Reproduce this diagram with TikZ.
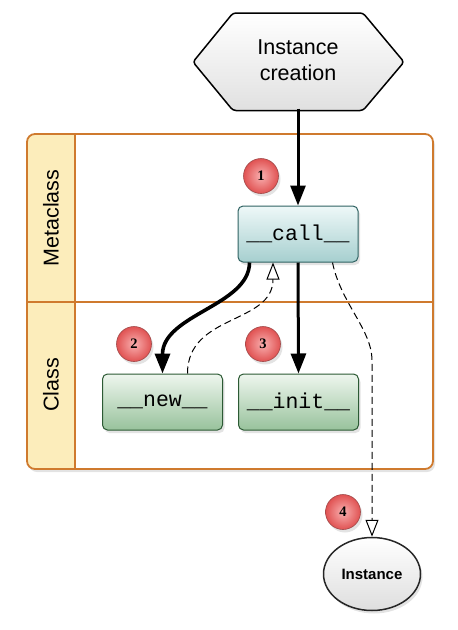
\documentclass[tikz,border=0pt]{standalone}
\usepackage{fontspec}
\setmainfont{Liberation Sans}
\newfontfamily\monofont{Liberation Mono}
\newfontfamily\badgefont{Liberation Serif}
\usetikzlibrary{arrows.meta,shadows,shapes.geometric}
\definecolor{lanebrd}{HTML}{CF7A2E}
\definecolor{lanefill}{HTML}{FCEDBB}
\definecolor{tealtop}{HTML}{EEF8F8}
\definecolor{tealbot}{HTML}{A6CFCF}
\definecolor{tealbrd}{HTML}{2F6262}
\definecolor{greentop}{HTML}{EEF6EE}
\definecolor{greenbot}{HTML}{98C29C}
\definecolor{greenbrd}{HTML}{2C5A34}
\definecolor{badgein}{HTML}{F9B0B0}
\definecolor{badgeout}{HTML}{E05252}
\definecolor{badgebrd}{HTML}{A04848}
\tikzset{
  softshadow/.style={drop shadow={opacity=0.22, shadow xshift=2pt, shadow yshift=-3pt}},
  methodbox/.style={rounded corners=5pt, minimum width=120pt, minimum height=56pt,
    line width=1pt, font=\monofont\fontsize{21.5}{24}\selectfont, softshadow},
  tealbox/.style={methodbox, draw=tealbrd, top color=tealtop, bottom color=tealbot},
  greenbox/.style={methodbox, draw=greenbrd, top color=greentop, bottom color=greenbot},
  badge/.style={circle, minimum size=35pt, inner sep=0pt, draw=badgebrd, line width=0.6pt,
    inner color=badgein, outer color=badgeout,
    font=\badgefont\bfseries\fontsize{14.5}{16}\selectfont, softshadow},
  lanelabel/.style={rotate=90, font=\fontsize{21.5}{24}\selectfont},
  thickarrow/.style={line width=3pt, -{Triangle[length=20pt,width=15pt]}},
  dasharrow/.style={line width=1pt, dash pattern=on 7pt off 4pt,
    -{Triangle[open,length=17pt,width=13pt,fill=white]}},
}
\begin{document}
\begin{tikzpicture}[x=1pt,y=-1pt]
\useasboundingbox (0,0) rectangle (458,630);

% swimlane container
\path[fill=white, rounded corners=8pt, softshadow] (27,134) rectangle (433,469);
\begin{scope}
  \clip[rounded corners=8pt] (27,134) rectangle (433,469);
  \fill[lanefill] (27,134) rectangle (75,469);
\end{scope}
\draw[lanebrd, line width=1.8pt] (75,134) -- (75,469);
\draw[lanebrd, line width=1.8pt] (27,302) -- (433,302);
\draw[lanebrd, line width=1.8pt, rounded corners=8pt] (27,134) rectangle (433,469);
\node[lanelabel] (metalbl) at (51,218) {Metaclass};
\node[lanelabel] (classlbl) at (51,385) {Class};

% hexagon
\path[draw=black, line width=1.5pt, rounded corners=3pt, top color=white, bottom color=black!12]
  (193,62) -- (233,13) -- (363,13) -- (404,62) -- (363,110.5) -- (233,110.5) -- cycle;
\node[minimum width=211pt, minimum height=97pt, inner sep=0pt, align=center,
  font=\fontsize{21.5}{26}\selectfont] (hex) at (298,60) {Instance\\creation};

% method boxes
\node[tealbox] (call) at (298,234) {\_\_call\_\_};
\node[greenbox] (new) at (162.5,402) {\_\_new\_\_};
\node[greenbox] (init) at (298.5,402) {\_\_init\_\_};

% instance
\node[ellipse, draw=black!85, line width=1.5pt, minimum width=97pt, minimum height=73pt,
  top color=white, bottom color=black!13, softshadow,
  font=\bfseries\fontsize{15}{18}\selectfont] (inst) at (372,574) {Instance};

% badges
\node[badge] (b1) at (261,176) {1};
\node[badge] (b2) at (134,344) {2};
\node[badge] (b3) at (263,344) {3};
\node[badge] (b4) at (343,512) {4};

% connectors
\coordinate (bend) at (372,360);
\draw[thickarrow] (hex.south) -- (call.north);
\draw[thickarrow, line width=3.6pt] ([xshift=12pt]call.south west)
  .. controls +(0,43) and +(0,-59) .. (new.north);
\draw[dasharrow] ([xshift=25pt]new.north)
  .. controls +(0,-60) and +(0,62) .. ([xshift=-25pt]call.south);
\draw[thickarrow] (call.south) -- (init.north);
\draw[dasharrow] ([xshift=-26pt]call.south east)
  .. controls +(8,40) and +(0,-30) .. (bend) -- (inst.north);
\end{tikzpicture}
\end{document}
